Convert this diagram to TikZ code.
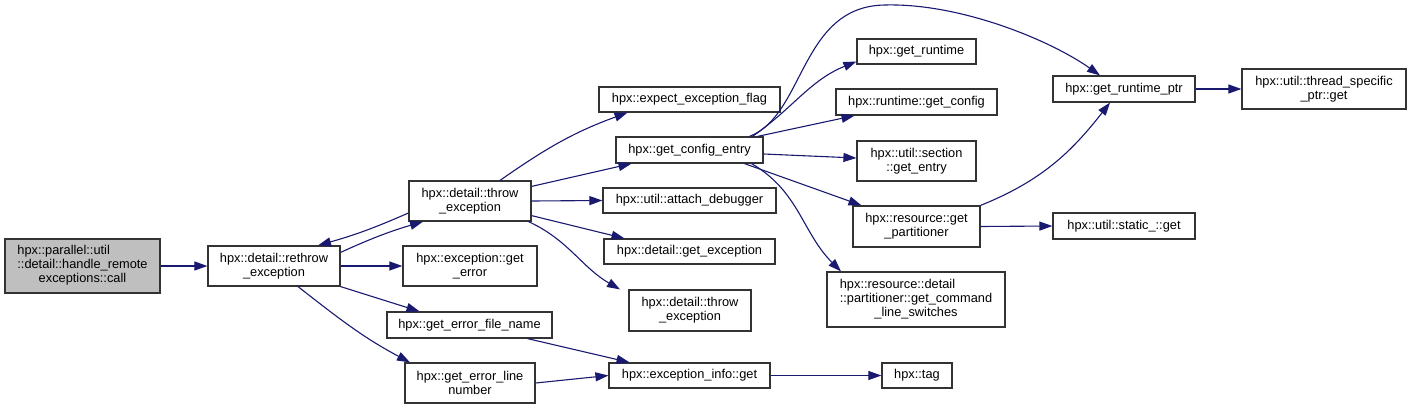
\documentclass[tikz,border=0pt]{standalone}
\usepackage{fontspec}
\setmainfont{Liberation Sans}
\usetikzlibrary{arrows.meta, positioning}
\definecolor{edgeblue}{RGB}{25,25,112}
\definecolor{rootgray}{RGB}{191,191,191}

\begin{document}
\begin{tikzpicture}[
    x=1pt, y=-1pt,
    fn/.style={draw=black!80, line width=1.2pt, fill=white, align=center,
               font=\fontsize{12.8}{14}\selectfont, inner sep=0pt},
    root/.style={fn, fill=rootgray},
    flow/.style={->, >={Triangle[length=13pt,width=9pt]}, draw=edgeblue,
                 line width=1.1pt},
]
\useasboundingbox (0,0) rectangle (1411,410);
% column 1 and 2
\node[root, minimum width=155pt, minimum height=54pt] (handle) at (82.5,266)
   {\begin{tabular}{@{}l@{}}hpx::parallel::util\\::detail::handle\_remote\\
    \multicolumn{1}{@{}c@{}}{exceptions::call}\end{tabular}};
\node[fn, minimum width=132pt, minimum height=40pt] (rethrow) at (274,266) {hpx::detail::rethrow\\\_exception};
% column 3
\node[fn, minimum width=122pt, minimum height=40pt] (throwexc) at (470,201) {hpx::detail::throw\\\_exception};
\node[fn, minimum width=134pt, minimum height=40pt] (geterror) at (470,266) {hpx::exception::get\\\_error};
\node[fn, minimum width=165pt, minimum height=26pt] (filename) at (469.5,325) {hpx::get\_error\_file\_name};
\node[fn, minimum width=130pt, minimum height=40pt] (lineno) at (470,383) {hpx::get\_error\_line\\number};
% column 4
\node[fn, minimum width=181pt, minimum height=25pt] (expectflag) at (689.5,99.5) {hpx::expect\_exception\_flag};
\node[fn, minimum width=147pt, minimum height=26pt] (cfgentry) at (689.5,150) {hpx::get\_config\_entry};
\node[fn, minimum width=173pt, minimum height=25pt] (attach) at (689.5,200.5) {hpx::util::attach\_debugger};
\node[fn, minimum width=171pt, minimum height=25pt] (getexc) at (689.5,251.5) {hpx::detail::get\_exception};
\node[fn, minimum width=122pt, minimum height=41pt] (throwexc2) at (690,310.5) {hpx::detail::throw\\\_exception};
\node[fn, minimum width=161pt, minimum height=25pt] (excinfo) at (689.5,375.5) {hpx::exception\_info::get};
% column 5
\node[fn, minimum width=119pt, minimum height=25pt] (getrt) at (916.5,51.5) {hpx::get\_runtime};
\node[fn, minimum width=161pt, minimum height=26pt] (rtconfig) at (916.5,102) {hpx::runtime::get\_config};
\node[fn, minimum width=119pt, minimum height=40pt] (section) at (916.5,161) {hpx::util::section\\::get\_entry};
\node[fn, minimum width=127pt, minimum height=41pt] (partnr) at (916.5,226.5) {hpx::resource::get\\\_partitioner};
\node[fn, minimum width=178pt, minimum height=55pt] (switches) at (916,299.5)
   {\begin{tabular}{@{}l@{}}hpx::resource::detail\\::partitioner::get\_command\\
    \multicolumn{1}{@{}c@{}}{\_line\_switches}\end{tabular}};
\node[fn, minimum width=70pt, minimum height=25pt] (tag) at (917,375.5) {hpx::tag};
% column 6 and 7
\node[fn, minimum width=142pt, minimum height=26pt] (rtptr) at (1124,89) {hpx::get\_runtime\_ptr};
\node[fn, minimum width=142pt, minimum height=26pt] (staticget) at (1124,226) {hpx::util::static\_::get};
\node[fn, minimum width=164pt, minimum height=40pt] (tspget) at (1324,89) {hpx::util::thread\_specific\\\_ptr::get};

\draw[flow] (handle) -- (rethrow);
\draw[flow] ([yshift=-7pt]rethrow.north east) to[bend left=4] ([xshift=-47pt]throwexc.south);
\draw[flow] ([yshift=-12pt]throwexc.west) to[bend left=4] ([xshift=44pt]rethrow.north);
\draw[flow] (rethrow) -- (geterror);
\draw[flow] (rethrow.south east) -- ([xshift=-50pt]filename.north);
\draw[flow] ([xshift=24pt]rethrow.south) to[out=-38,in=152] ([xshift=-60pt]lineno.north);
\draw[flow] ([xshift=30pt]throwexc.north) to[out=35,in=-160] ([xshift=-62pt]expectflag.south);
\draw[flow] ([yshift=-6pt]throwexc.north east) -- ([xshift=-58pt]cfgentry.south);
\draw[flow] (throwexc.east) -- (attach.west);
\draw[flow] ([yshift=6pt]throwexc.south east) -- ([xshift=-65pt]getexc.north);
\draw[flow] ([xshift=-3pt]throwexc.south east) to[out=-25,in=150] ([xshift=-70pt]throwexc2.north);
\draw[flow] ([xshift=58pt]filename.south) -- ([xshift=-60pt]excinfo.north);
\draw[flow] (lineno.east) -- (excinfo.west);
\draw[flow] (excinfo) -- (tag);
\draw[flow] ([xshift=63pt]cfgentry.north) to[out=35,in=-158] ([yshift=-10pt]getrt.west);
\draw[flow] ([xshift=68pt]cfgentry.north) -- ([xshift=-62pt]rtconfig.south);
\draw[flow] ([yshift=-4pt]cfgentry.east) -- ([yshift=3pt]section.west);
\draw[flow] ([xshift=55pt]cfgentry.south) -- ([xshift=-55pt]partnr.north);
\draw[flow] ([xshift=62pt]cfgentry.south) to[out=-30,in=135] ([xshift=-75pt]switches.north);
\draw[flow] ([xshift=60pt]cfgentry.north) .. controls (805,115) and (800,6) .. (885,5)
   .. controls (960,3) and (1050,40) .. ([xshift=-24pt]rtptr.north);
\draw[flow] (partnr.north east) to[out=22,in=-128] ([xshift=-14pt]rtptr.south);
\draw[flow] (partnr.east) -- (staticget.west);
\draw[flow] (rtptr) -- (tspget);
\end{tikzpicture}
\end{document}
